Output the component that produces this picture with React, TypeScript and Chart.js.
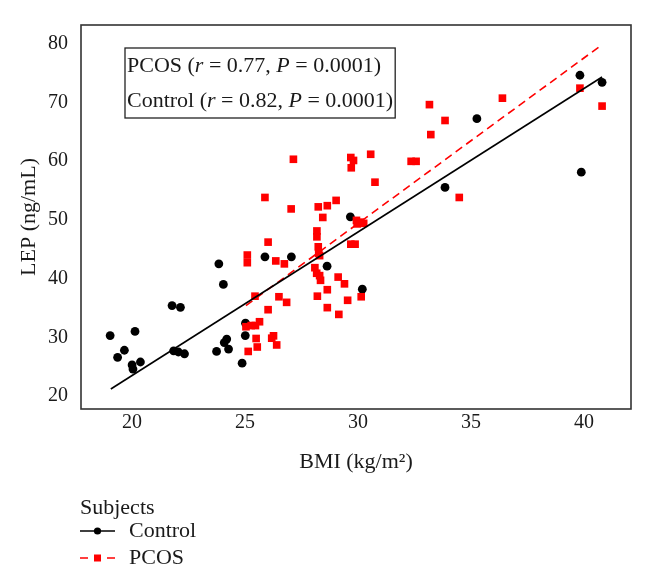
import React, { useEffect, useRef } from 'react';
import { Chart, registerables } from 'chart.js';

Chart.register(...registerables);

// ---------- data ----------
const xTicks = [20, 25, 30, 35, 40];
const yTicks = [20, 30, 40, 50, 60, 70, 80];

const controlBMI = [19.03, 20.13, 19.36, 19.66, 20.0, 20.04, 20.37, 21.77, 22.14, 21.84, 22.05, 22.32, 23.84, 24.04, 23.74, 24.19, 24.08, 24.27, 24.87, 25.02, 25.01, 25.88, 27.05, 28.63, 29.66, 30.19, 33.85, 35.26, 39.82, 39.88, 40.8];
const controlLEP = [30.3, 31.0, 26.6, 27.8, 25.3, 24.6, 25.8, 35.4, 35.1, 27.7, 27.5, 27.2, 42.5, 39.0, 27.6, 29.7, 29.1, 28.0, 25.6, 32.4, 30.3, 43.7, 43.7, 42.1, 50.5, 38.2, 55.5, 67.2, 74.6, 58.1, 73.4];

const pcosBMI = [25.14, 25.54, 25.49, 25.04, 25.27, 25.46, 25.64, 25.1, 25.1, 25.44, 26.02, 25.88, 26.02, 26.36, 26.74, 26.5, 26.84, 26.26, 26.18, 26.4, 27.14, 27.04, 28.24, 28.64, 29.03, 28.44, 28.18, 28.18, 28.24, 28.26, 28.3, 28.09, 28.17, 28.3, 28.34, 28.2, 28.64, 28.64, 29.12, 29.4, 29.15, 29.54, 30.14, 29.68, 29.87, 29.93, 30.1, 30.25, 29.96, 29.68, 29.8, 29.7, 30.56, 30.75, 32.35, 32.57, 33.16, 33.22, 33.85, 34.48, 36.39, 39.82, 40.8];
const pcosLEP = [27.6, 28.35, 29.8, 31.8, 32.0, 32.0, 32.65, 44.0, 42.7, 37.0, 34.7, 53.8, 46.2, 43.0, 42.5, 36.9, 35.95, 30.25, 29.85, 28.7, 60.3, 51.85, 52.2, 52.4, 53.3, 50.4, 48.1, 47.1, 45.4, 44.3, 43.9, 41.85, 40.9, 40.5, 39.7, 37.0, 38.1, 35.05, 40.25, 39.1, 33.9, 36.3, 36.9, 45.85, 45.85, 49.9, 49.6, 49.4, 49.3, 60.6, 60.1, 58.85, 61.15, 56.4, 59.95, 59.95, 69.6, 64.5, 66.9, 53.8, 70.7, 72.4, 69.35];

const controlFitBMI = [19.06, 40.8];
const controlFitLEP = [21.2, 74.3];
const pcosFitBMI = [25.04, 40.8];
const pcosFitLEP = [35.4, 79.8];

const seriesNames = ['Control', 'PCOS'];
const legendTitle = 'Subjects';
const statGroups = ['PCOS', 'Control'];
const statR = ['0.77', '0.82'];
const statP = ['0.0001', '0.0001'];
const xTitle = 'BMI (kg/m\u00B2)';
const yTitle = 'LEP (ng/mL)';

// ---------- styles ----------
const FONT = "'Liberation Serif', 'Times New Roman', serif";
const TEXT = '#1a1a1a';
const RED = '#ff0000';
const BLACK = '#000000';

const toPts = (xs: number[], ys: number[]) => xs.map((x, i) => ({ x, y: ys[i] }));

const framePlugin = {
  id: 'frame',
  beforeDatasetsDraw(chart: any) {
    const { ctx, chartArea: a } = chart;
    ctx.save();
    ctx.strokeStyle = '#333333';
    ctx.lineWidth = 1.6;
    ctx.strokeRect(a.left, a.top, a.right - a.left, a.bottom - a.top);
    ctx.restore();
  },
};

const statPlugin = {
  id: 'statBox',
  afterDraw(chart: any) {
    const { ctx, chartArea: a } = chart;
    ctx.save();
    const normal = `22px ${FONT}`;
    const italic = `italic 22px ${FONT}`;
    const lines = statGroups.map((g, i) => [
      [g + ' (', normal],
      ['r', italic],
      [' = ' + statR[i] + ', ', normal],
      ['P', italic],
      [' = ' + statP[i] + ')', normal],
    ]);
    const widths = lines.map((segs) =>
      segs.reduce((w, [t, f]) => {
        ctx.font = f;
        return w + ctx.measureText(t).width;
      }, 0)
    );
    const left = a.left + 44;
    const top = a.top + 23;
    const boxW = Math.max(...widths) + 4;
    const boxH = 70;
    ctx.fillStyle = '#ffffff';
    ctx.fillRect(left, top, boxW, boxH);
    ctx.strokeStyle = '#222222';
    ctx.lineWidth = 1.3;
    ctx.strokeRect(left, top, boxW, boxH);
    ctx.fillStyle = TEXT;
    ctx.textBaseline = 'middle';
    ctx.textAlign = 'left';
    lines.forEach((segs, i) => {
      let x = left + 2;
      const y = top + 18 + i * 35;
      segs.forEach(([t, f]) => {
        ctx.font = f;
        ctx.fillText(t, x, y);
        x += ctx.measureText(t).width;
      });
    });
    ctx.restore();
  },
};

const legendPlugin = {
  id: 'subjectsLegend',
  afterDraw(chart: any) {
    const { ctx } = chart;
    const a = chart.chartArea;
    ctx.save();
    ctx.font = `22px ${FONT}`;
    ctx.fillStyle = TEXT;
    ctx.textBaseline = 'middle';
    ctx.textAlign = 'left';
    const x0 = a.left - 1;
    ctx.fillText(legendTitle, x0, 508);
    const styles = [
      { color: BLACK, dashed: false, shape: 'circle' },
      { color: RED, dashed: true, shape: 'rect' },
    ];
    seriesNames.forEach((name, i) => {
      const y = 531 + i * 27;
      const s = styles[i];
      ctx.strokeStyle = s.color;
      ctx.lineWidth = 1.5;
      ctx.beginPath();
      if (s.dashed) {
        ctx.moveTo(x0, y);
        ctx.lineTo(x0 + 8, y);
        ctx.moveTo(x0 + 27, y);
        ctx.lineTo(x0 + 35, y);
      } else {
        ctx.moveTo(x0, y);
        ctx.lineTo(x0 + 35, y);
      }
      ctx.stroke();
      ctx.fillStyle = s.color;
      if (s.shape === 'circle') {
        ctx.beginPath();
        ctx.arc(x0 + 17.5, y, 3.6, 0, Math.PI * 2);
        ctx.fill();
      } else {
        ctx.fillRect(x0 + 14, y - 3.5, 7, 7);
      }
      ctx.fillStyle = TEXT;
      ctx.fillText(name, x0 + 49, y);
    });
    ctx.restore();
  },
};

export default function App() {
  const ref = useRef<HTMLCanvasElement | null>(null);

  useEffect(() => {
    if (!ref.current) return;
    const chart = new Chart(ref.current, {
      type: 'scatter',
      data: {
        datasets: [
          {
            label: 'Control fit',
            data: toPts(controlFitBMI, controlFitLEP),
            showLine: true,
            borderColor: BLACK,
            borderWidth: 1.6,
            pointRadius: 0,
            fill: false,
          },
          {
            label: 'PCOS fit',
            data: toPts(pcosFitBMI, pcosFitLEP),
            showLine: true,
            borderColor: RED,
            borderWidth: 1.6,
            borderDash: [8, 5],
            pointRadius: 0,
            fill: false,
          },
          {
            label: seriesNames[1],
            data: toPts(pcosBMI, pcosLEP),
            pointStyle: 'rect',
            pointRadius: 5.4,
            backgroundColor: RED,
            borderColor: RED,
            borderWidth: 0,
          },
          {
            label: seriesNames[0],
            data: toPts(controlBMI, controlLEP),
            pointStyle: 'circle',
            pointRadius: 4.4,
            backgroundColor: BLACK,
            borderColor: BLACK,
            borderWidth: 0,
          },
        ],
      },
      options: {
        animation: false,
        responsive: true,
        maintainAspectRatio: false,
        layout: { padding: { top: 14, right: 15, bottom: 102, left: 0 } },
        plugins: {
          legend: { display: false },
          tooltip: { enabled: false },
        },
        scales: {
          x: {
            type: 'linear',
            min: 17.74,
            max: 42.08,
            afterBuildTicks: (s: any) => {
              s.ticks = xTicks.map((v) => ({ value: v }));
            },
            afterFit: (s: any) => {
              s.height = 66;
            },
            grid: { display: false, drawTicks: false },
            border: { display: false },
            ticks: {
              padding: 2,
              color: TEXT,
              font: { family: FONT, size: 20 },
              maxRotation: 0,
            },
            title: {
              display: true,
              text: xTitle,
              color: TEXT,
              font: { family: FONT, size: 22 },
              padding: { top: 0, bottom: 0 },
            },
          },
          y: {
            type: 'linear',
            min: 17.8,
            max: 83.15,
            afterBuildTicks: (s: any) => {
              s.ticks = yTicks.map((v) => ({ value: v }));
            },
            afterFit: (s: any) => {
              s.width = 81;
            },
            grid: { display: false, drawTicks: false },
            border: { display: false },
            ticks: {
              padding: 13,
              color: TEXT,
              font: { family: FONT, size: 20 },
            },
            title: {
              display: true,
              text: yTitle,
              color: TEXT,
              font: { family: FONT, size: 22 },
              padding: { top: 16, bottom: 0 },
            },
          },
        },
      },
      plugins: [framePlugin, statPlugin, legendPlugin],
    });
    return () => chart.destroy();
  }, []);

  return (
    <div style={{ position: 'fixed', left: 0, top: 0, width: 646, height: 577, background: '#ffffff' }}>
      <canvas ref={ref} />
    </div>
  );
}
